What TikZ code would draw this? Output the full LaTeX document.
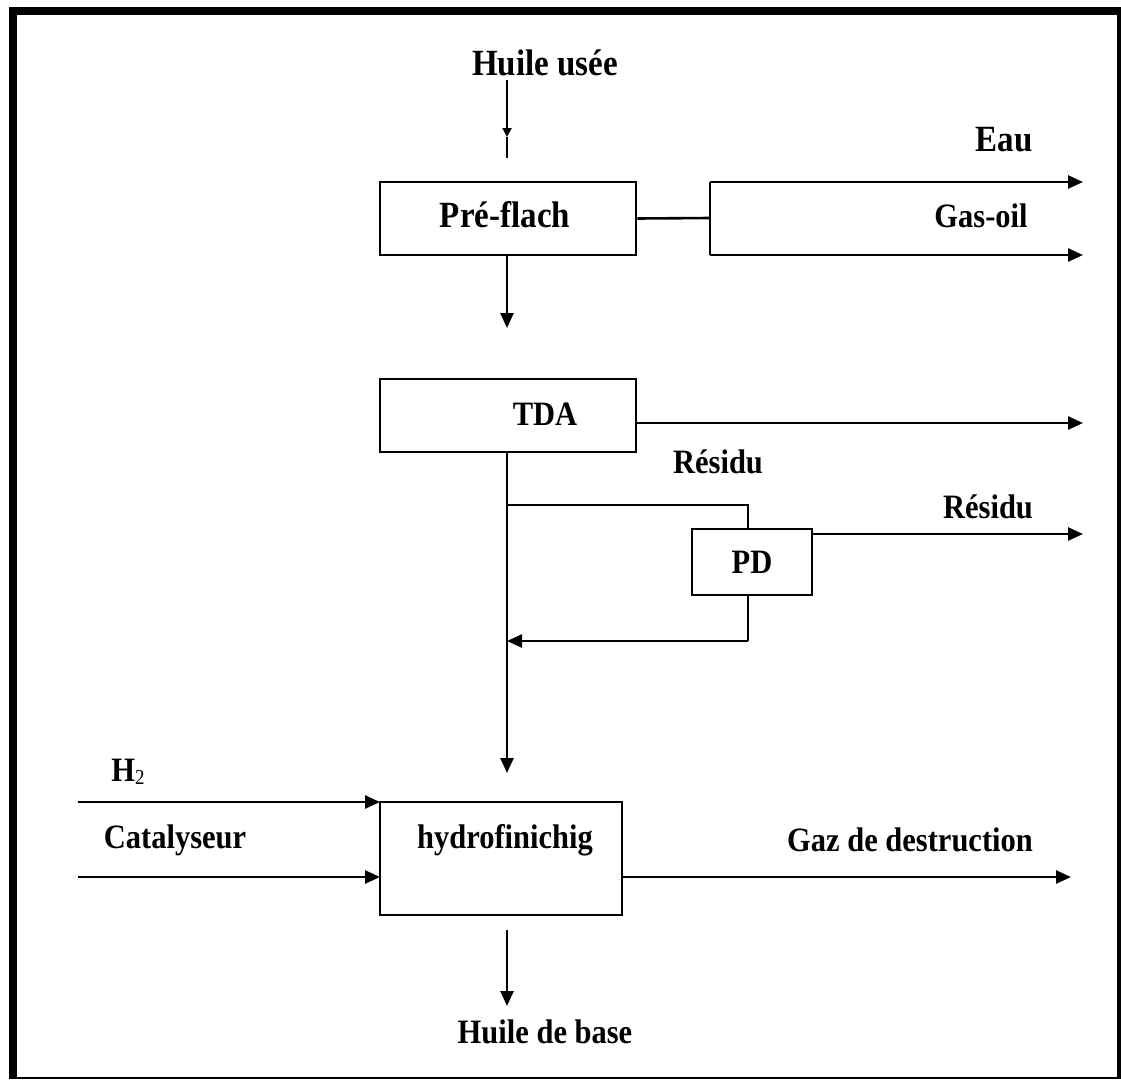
\documentclass[tikz,border=0pt]{standalone}
\usepackage{fontspec}
\setmainfont{Liberation Serif}
\usetikzlibrary{arrows.meta,positioning}

\tikzset{
  txt/.style={font=\fontsize{30.5}{33}\selectfont\bfseries, inner sep=0pt,
              yscale=1.12, transform shape},
  big/.style={txt, font=\fontsize{33}{36}\selectfont\bfseries},
  box/.style={draw, line width=2.6pt, inner sep=0pt},
  pipe/.style={line width=2.6pt},
  flow/.style={line width=2.6pt, -{Triangle[length=15pt,width=13pt]}},
}

\begin{document}
\begin{tikzpicture}[x=1pt,y=-1pt,line join=miter]
\useasboundingbox (0,0) rectangle (1121,1079);

% cadre
\fill (9,7) rectangle (17,1079);
\fill (9,7) rectangle (1121,15);
\fill (1117,7) rectangle (1121,1079);
\fill (9,1077) rectangle (1121,1079);

% blocs
\node[box, minimum width=256pt, minimum height=73pt,
      label={[big,xshift=-3pt,yshift=3pt]center:Pré-flach}] (pref) at (508,218.5) {};
\node[box, minimum width=256pt, minimum height=73pt,
      label={[txt,xshift=37pt,yshift=1pt]center:TDA}] (tda) at (508,415.5) {};
\node[box, minimum width=120pt, minimum height=66pt,
      label={[txt]center:PD}] (pd) at (752,562) {};
\node[box, minimum width=242pt, minimum height=113pt,
      label={[txt,xshift=4pt,yshift=16pt]center:hydrofinichig}] (hydro) at (501,858.5) {};

% textes
\node[big] (huile) at (545,63) {Huile usée};
\node[txt, font=\fontsize{33}{35}\selectfont\bfseries] (eau) at (1004,140) {Eau};
\node[txt] (gasoil) at (981,216) {Gas-oil};
\node[txt] (res1) at (718,462) {Résidu};
\node[txt] (res2) at (988,507) {Résidu};
\node[txt] (h2) at (128,772) {H{\fontsize{19}{19}\selectfont\mdseries\raisebox{-3pt}{2}}};
\node[txt] (cata) at (175,840) {Catalyseur};
\node[txt] (gaz) at (910,840) {Gaz de destruction};
\node[txt] (base) at (545,1032) {Huile de base};

% points de passage
\coordinate (e0) at (507,80);
\coordinate (e1) at (507,137);
\coordinate (e2) at (507,158);
\coordinate (p1) at (507,328);
\coordinate (jx) at (710,218);
\coordinate (eau0) at (710,182);
\coordinate (eau1) at (1083,182);
\coordinate (go0) at (710,255);
\coordinate (go1) at (1083,255);
\coordinate (t0) at (636,423);
\coordinate (t1) at (1083,423);
\coordinate (v0) at (507,452);
\coordinate (v1) at (507,773);
\coordinate (b0) at (507,505);
\coordinate (b1) at (748,505);
\coordinate (r0) at (812,534);
\coordinate (r1) at (1083,534);
\coordinate (d0) at (748,641);
\coordinate (d1) at (507,641);
\coordinate (h0) at (78,802);
\coordinate (h1) at (380,802);
\coordinate (c0) at (78,877);
\coordinate (c1) at (380,877);
\coordinate (g0) at (622,877);
\coordinate (g1) at (1071,877);
\coordinate (s0) at (507,930);
\coordinate (s1) at (507,1006);

% liaisons
\draw[line width=2.6pt, -{Triangle[length=9pt,width=9pt]}] (e0) -- (e1);
\draw[pipe] (e1) -- (e2);
\draw[flow] (pref.south -| p1) -- (p1);
\draw[pipe] (pref.east) -- (jx);
\draw[pipe] (eau0) -- (go0);
\draw[flow] (eau0) -- (eau1);
\draw[flow] (go0) -- (go1);
\draw[flow] (t0) -- (t1);
\draw[flow] (v0) -- (v1);
\draw[pipe] (b0) -- (b1) -- (pd.north -| b1);
\draw[flow] (r0) -- (r1);
\draw[pipe] (pd.south -| d0) -- (d0);
\draw[flow] (d0) -- (d1);
\draw[flow] (h0) -- (h1);
\draw[flow] (c0) -- (c1);
\draw[flow] (g0) -- (g1);
\draw[flow] (s0) -- (s1);
\end{tikzpicture}
\end{document}
